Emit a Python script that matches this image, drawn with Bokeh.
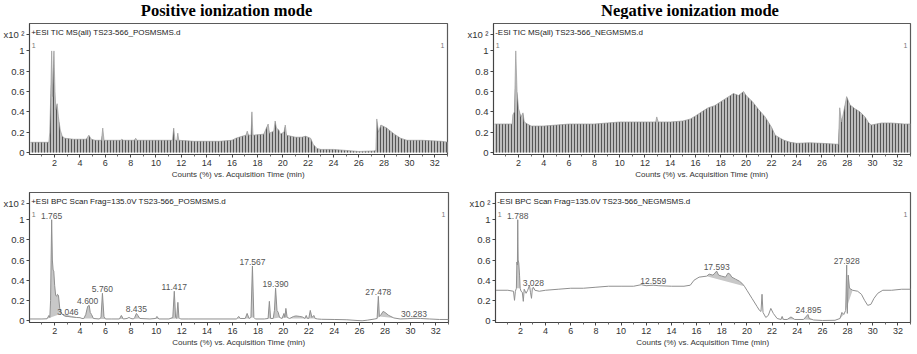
import numpy as np
from bokeh.plotting import figure
from bokeh.models import Range1d, FixedTicker, Label
from bokeh.layouts import column, row
from bokeh.core.properties import value
from bokeh.embed import file_html
from bokeh.resources import INLINE

# ---------------- data ----------------
PANEL_TITLES = ["Positive ionization mode", "Negative ionization mode"]
HEADERS = ["+ESI TIC MS(all) TS23-566_POSMSMS.d",
           "-ESI TIC MS(all) TS23-566_NEGMSMS.d",
           "+ESI BPC Scan Frag=135.0V TS23-566_POSMSMS.d",
           "-ESI BPC Scan Frag=135.0V TS23-566_NEGMSMS.d"]
X_TITLE = "Counts (%) vs. Acquisition Time (min)"
X_TICKS = [2, 4, 6, 8, 10, 12, 14, 16, 18, 20, 22, 24, 26, 28, 30, 32]
X_MINOR = [1, 3, 5, 7, 9, 11, 13, 15, 17, 19, 21, 23, 25, 27, 29, 31, 33]
Y_TICKS = [0, 0.2, 0.4, 0.6, 0.8, 1]
Y_TICK_LABELS = ["0", "0.2", "0.4", "0.6", "0.8", "1"]
Y_SCALE_LABEL = "x10 \u00b2"

# positive TIC (envelope of scans)
pos_tic_t = [0.1, 1.55, 1.62, 1.7, 1.77, 1.85, 1.95, 2.03, 2.1, 2.2, 2.3, 2.45, 2.6, 2.8,
             3.5, 4.5, 4.7, 4.9, 5.2, 5.7, 5.8, 5.9, 7.2, 7.3, 7.4, 8.3, 8.4, 8.5, 9.0,
             11.3, 11.4, 11.5, 11.65, 11.72, 11.8, 13.0, 15.0, 16.0, 16.3, 16.8, 17.1,
             17.2, 17.3, 17.5, 17.57, 17.65, 18.5, 18.85, 18.95, 19.3, 19.4, 19.5, 19.7,
             19.8, 20.1, 20.2, 20.3, 21.0, 21.5, 21.8, 22.0, 22.2, 22.4, 22.7, 23.0, 24.0,
             25.0, 26.0, 27.2, 27.35, 27.42, 27.55, 27.75, 28.2, 28.8, 29.3, 29.8, 31.0,
             32.5, 33.1]
pos_tic_y = [0.10, 0.10, 0.20, 0.58, 1.00, 0.55, 1.00, 0.60, 0.42, 0.48, 0.35, 0.22, 0.16, 0.14,
             0.13, 0.13, 0.17, 0.13, 0.12, 0.12, 0.24, 0.12, 0.12, 0.13, 0.12, 0.12, 0.14, 0.12, 0.12,
             0.12, 0.24, 0.12, 0.12, 0.19, 0.12, 0.11, 0.11, 0.12, 0.14, 0.16, 0.17,
             0.21, 0.17, 0.17, 0.40, 0.17, 0.18, 0.28, 0.19, 0.21, 0.31, 0.24, 0.22,
             0.18, 0.20, 0.27, 0.17, 0.15, 0.15, 0.16, 0.15, 0.14, 0.08, 0.04, 0.03, 0.03,
             0.02, 0.01, 0.015, 0.02, 0.33, 0.20, 0.27, 0.24, 0.18, 0.14, 0.12, 0.12,
             0.11, 0.10]

# negative TIC (envelope of scans)
neg_tic_t = [0.1, 1.5, 1.55, 1.68, 1.78, 1.88, 2.0, 2.2, 2.35, 2.45, 2.7, 3.0, 4.0, 5.0, 6.0,
             8.0, 9.0, 10.0, 12.0, 12.85, 12.93, 13.05, 14.0, 15.0, 15.6, 16.0, 16.5, 17.0,
             17.5, 18.0, 18.5, 19.0, 19.4, 19.8, 20.0, 20.5, 21.0, 21.5, 22.0, 22.3, 22.7,
             23.0, 23.5, 24.0, 25.0, 26.0, 27.3, 27.4, 27.55, 27.75, 27.95, 28.2, 28.6, 29.0,
             29.4, 29.7, 29.9, 30.3, 30.7, 31.5, 32.5, 33.1]
neg_tic_y = [0.28, 0.28, 0.37, 0.40, 1.00, 0.60, 0.43, 0.35, 0.39, 0.30, 0.28, 0.26, 0.26, 0.27, 0.28,
             0.28, 0.29, 0.30, 0.30, 0.30, 0.35, 0.30, 0.30, 0.31, 0.33, 0.36, 0.40, 0.44,
             0.46, 0.50, 0.54, 0.58, 0.56, 0.60, 0.56, 0.50, 0.42, 0.35, 0.25, 0.17, 0.14,
             0.12, 0.10, 0.09, 0.095, 0.09, 0.08, 0.44, 0.30, 0.42, 0.55, 0.47, 0.43, 0.40,
             0.35, 0.29, 0.27, 0.28, 0.29, 0.29, 0.28, 0.28]

# positive BPC
pos_bpc_t = [0.05, 1.0, 1.4, 1.55, 1.62, 1.68, 1.72, 1.765, 1.82, 1.88, 1.93, 2.0, 2.08, 2.15,
             2.22, 2.3, 2.4, 2.55, 2.7, 2.9, 3.046, 3.3, 3.7, 4.0, 4.15, 4.3, 4.45, 4.6, 4.72,
             4.8, 4.9, 5.05, 5.5, 5.65, 5.76, 5.88, 6.0, 6.5, 7.1, 7.25, 7.4, 7.7, 7.85, 8.0,
             8.2, 8.3, 8.435, 8.55, 8.7, 9.5, 9.95, 10.05, 10.2, 11.0, 11.3, 11.417, 11.52,
             11.6, 11.7, 11.78, 11.9, 12.5, 16.3, 16.5, 16.6, 17.0, 17.15, 17.3, 17.45,
             17.567, 17.68, 17.8, 18.5, 18.8, 18.9, 19.0, 19.2, 19.3, 19.39, 19.5, 19.6,
             19.7, 19.9, 20.05, 20.12, 20.2, 20.3, 20.5, 20.8, 21.0, 21.3, 21.5, 21.7, 21.8,
             21.9, 22.0, 22.12, 22.25, 22.4, 22.5, 22.7, 23.0, 24.0, 25.0, 25.8, 26.2, 26.6,
             27.2, 27.38, 27.478, 27.56, 27.65, 27.85, 28.0, 28.3, 28.7, 29.2, 29.8, 30.283,
             30.8, 31.5, 32.3, 33.1]
pos_bpc_y = [0.015, 0.015, 0.017, 0.05, 0.03, 0.20, 0.60, 1.00, 0.60, 0.50, 0.49, 0.35, 0.25, 0.24,
             0.26, 0.25, 0.12, 0.07, 0.05, 0.04, 0.04, 0.035, 0.03, 0.028, 0.02, 0.02, 0.06, 0.14, 0.15,
             0.08, 0.06, 0.02, 0.015, 0.03, 0.27, 0.04, 0.015, 0.015, 0.015, 0.05, 0.015, 0.02, 0.03, 0.02,
             0.015, 0.03, 0.07, 0.05, 0.02, 0.015, 0.02, 0.04, 0.015, 0.015, 0.03, 0.29, 0.03,
             0.02, 0.18, 0.03, 0.015, 0.015, 0.015, 0.04, 0.02, 0.02, 0.07, 0.02, 0.03,
             0.54, 0.03, 0.015, 0.015, 0.02, 0.19, 0.02, 0.02, 0.10, 0.32, 0.10, 0.08,
             0.03, 0.02, 0.07, 0.03, 0.12, 0.03, 0.02, 0.04, 0.045, 0.04, 0.035, 0.02, 0.05,
             0.02, 0.02, 0.10, 0.03, 0.05, 0.02, 0.015, 0.012, 0.01, 0.007, 0.0, -0.003, 0.003,
             0.015, 0.02, 0.24, 0.04, 0.05, 0.09, 0.08, 0.05, 0.025, 0.015, 0.018, 0.022,
             0.02, 0.015, 0.01, 0.01]
pos_bpc_windows = [(1.4, 2.55), (2.55, 4.15), (4.3, 5.05), (5.5, 6.0), (7.1, 7.4), (8.2, 8.7),
                   (9.5, 10.2), (11.0, 11.6), (11.6, 11.9), (16.3, 16.6), (17.0, 17.3),
                   (17.45, 17.68), (18.8, 19.0), (19.2, 19.7), (19.9, 20.12), (20.12, 20.3),
                   (20.5, 21.7), (21.7, 21.9), (22.0, 22.5), (27.38, 27.56), (27.56, 28.7),
                   (29.8, 30.8)]
pos_peak_rt = [1.765, 3.046, 4.600, 5.760, 8.435, 11.417, 17.567, 19.390, 27.478, 30.283]
pos_peak_h = [1.00, 0.04, 0.15, 0.27, 0.07, 0.29, 0.54, 0.32, 0.24, 0.022]

# negative BPC
neg_bpc_t = [0.05, 1.0, 1.45, 1.53, 1.6, 1.68, 1.72, 1.76, 1.788, 1.82, 1.87, 1.93, 1.98, 2.05,
             2.15, 2.23, 2.3, 2.45, 2.58, 2.72, 2.8, 2.88, 2.95, 3.028, 3.15, 3.5, 4.0, 5.0,
             6.0, 7.0, 8.0, 9.0, 10.0, 11.0, 11.6, 12.0, 12.559, 13.0, 14.0, 15.0, 15.5,
             15.8, 16.2, 16.8, 17.0, 17.3, 17.45, 17.593, 17.75, 18.0, 18.3, 18.5, 18.65,
             18.8, 19.1, 19.4, 19.6, 19.8, 20.0, 20.4, 20.8, 21.0, 21.12, 21.2, 21.28, 21.5,
             21.7, 21.9, 22.1, 22.4, 22.7, 22.8, 22.9, 23.2, 23.5, 23.8, 24.5, 24.85, 24.95,
             25.3, 26.0, 27.0, 27.4, 27.55, 27.7, 27.85, 27.928, 27.98, 28.05, 28.15, 28.4,
             28.8, 29.1, 29.35, 29.6, 29.85, 30.1, 30.4, 30.8, 31.5, 32.3, 33.1]
neg_bpc_y = [0.30, 0.30, 0.29, 0.20, 0.29, 0.32, 0.58, 0.55, 1.00, 0.60, 0.57, 0.45, 0.32, 0.29,
             0.28, 0.19, 0.31, 0.27, 0.30, 0.35, 0.28, 0.22, 0.32, 0.33, 0.30, 0.29, 0.30, 0.31,
             0.32, 0.32, 0.33, 0.34, 0.34, 0.34, 0.355, 0.345, 0.35, 0.345, 0.34, 0.34, 0.35,
             0.40, 0.43, 0.44, 0.46, 0.45, 0.47, 0.49, 0.45, 0.44, 0.43, 0.47, 0.46,
             0.43, 0.41, 0.39, 0.37, 0.34, 0.30, 0.22, 0.14, 0.10, 0.09, 0.26, 0.08, 0.03,
             0.05, 0.12, 0.07, 0.02, 0.01, 0.04, 0.01, 0.01, 0.035, 0.01, 0.01, 0.06, 0.02,
             0.005, 0.0, 0.002, 0.02, 0.08, 0.06, 0.10, 0.55, 0.07, 0.45, 0.32, 0.30,
             0.29, 0.26, 0.20, 0.15, 0.16, 0.22, 0.27, 0.30, 0.30, 0.31, 0.31]
neg_bpc_windows = [(1.68, 1.98), (2.95, 3.15), (11.6, 13.0), (16.8, 19.8), (22.7, 22.9),
                   (23.2, 23.8), (24.5, 25.3), (27.4, 27.7), (27.85, 28.4)]
neg_peak_rt = [1.788, 3.028, 12.559, 17.593, 24.895, 27.928]
neg_peak_h = [1.00, 0.33, 0.35, 0.49, 0.06, 0.55]

# ---------------- styling ----------------
SANS = "Liberation Sans"
SERIF = "Liberation Serif"
X_RANGE = (0.02, 33.0)
Y_RANGE = (-0.02, 1.27)
TITLE_H = 19


def make_title_strip():
    W = 917
    t = figure(width=W, height=TITLE_H, output_backend="svg", toolbar_location=None,
               x_range=Range1d(0, W), y_range=Range1d(TITLE_H, 0),
               x_axis_type=None, y_axis_type=None,
               min_border_left=0, min_border_right=0, min_border_top=0, min_border_bottom=0)
    t.grid.visible = False
    t.outline_line_color = None
    t.text(x=[226, 689.5], y=[9.5, 9.5], text=PANEL_TITLES, text_font=value(SERIF),
           text_font_size="16.5px", text_font_style="bold", text_color="black",
           text_align="center", text_baseline="middle")
    return t


def make_fig(width, height, bl, br, bt, bb):
    p = figure(width=width, height=height, output_backend="svg", toolbar_location=None,
               x_range=Range1d(*X_RANGE), y_range=Range1d(*Y_RANGE),
               min_border_left=bl, min_border_right=br, min_border_top=bt, min_border_bottom=bb)
    p.grid.visible = False
    p.outline_line_color = "#5a5a5a"
    p.outline_line_width = 1.2
    p.background_fill_color = "white"
    p.border_fill_color = "white"

    xa = p.xaxis[0]
    xa.ticker = FixedTicker(ticks=X_TICKS, minor_ticks=X_MINOR)
    xa.axis_label = X_TITLE
    xa.axis_label_text_font = SANS
    xa.axis_label_text_font_size = "8px"
    xa.axis_label_text_font_style = "normal"
    xa.axis_label_text_color = "#333333"
    xa.axis_label_standoff = 1
    xa.major_label_text_font = SANS
    xa.major_label_text_font_size = "9px"
    xa.major_label_text_color = "#333333"
    xa.major_label_standoff = 2
    xa.major_tick_out = 3
    xa.major_tick_in = 0
    xa.minor_tick_out = 2
    xa.minor_tick_in = 0
    xa.axis_line_color = "#444444"
    xa.major_tick_line_color = "#444444"
    xa.minor_tick_line_color = "#666666"

    ya = p.yaxis[0]
    y_scale_pos = 1.16
    ya.ticker = FixedTicker(ticks=Y_TICKS + [y_scale_pos])
    overrides = {t: s for t, s in zip(Y_TICKS, Y_TICK_LABELS)}
    overrides[y_scale_pos] = Y_SCALE_LABEL
    ya.major_label_overrides = overrides
    ya.major_label_text_font = SANS
    ya.major_label_text_font_size = "9.5px"
    ya.major_label_text_color = "#333333"
    ya.major_label_standoff = 2
    ya.major_tick_out = 3
    ya.major_tick_in = 0
    ya.minor_tick_line_color = None
    ya.axis_line_color = "#444444"
    ya.major_tick_line_color = "#444444"
    return p


def decorate(p, header):
    p.add_layout(Label(x=0.15, y=1.185, text=header, text_font=SANS, text_font_size="8px",
                       text_color="#222222", text_baseline="middle", text_align="left"))
    p.add_layout(Label(x=0.35, y=1.05, text="1", text_font=SANS, text_font_size="7px",
                       text_color="#777777", text_baseline="middle", text_align="center"))
    p.add_layout(Label(x=32.6, y=1.05, text="1", text_font=SANS, text_font_size="7px",
                       text_color="#777777", text_baseline="middle", text_align="center"))


def draw_tic(p, t, y):
    p.varea(x=t, y1=[0] * len(t), y2=y, fill_color="#bdbdbd",
            hatch_pattern="vertical_line", hatch_color="#555555", hatch_scale=3, hatch_weight=1)
    p.line(t, y, line_color="#9a9a9a", line_width=0.7)


def draw_bpc(p, t, y, windows, rts, hs):
    ta = np.asarray(t)
    ya = np.asarray(y)
    xs, ys = [], []
    for a, b in windows:
        m = (ta >= a) & (ta <= b)
        xs.append(list(ta[m]))
        ys.append(list(ya[m]))
    p.patches(xs, ys, fill_color="#c8c8c8", line_color=None)
    p.line(t, y, line_color="#8f8f8f", line_width=1)
    p.text(x=rts, y=hs, text=[f"{r:.3f}" for r in rts], text_font=value(SANS),
           text_font_size="8.5px", text_color="#555555", text_align="center",
           text_baseline="bottom", y_offset=-1)


title_strip = make_title_strip()

p1 = make_fig(458, 181 - TITLE_H, 29, 11, 23 - TITLE_H, 27)
draw_tic(p1, pos_tic_t, pos_tic_y)
decorate(p1, HEADERS[0])

p2 = make_fig(459, 181 - TITLE_H, 35, 7, 23 - TITLE_H, 27)
draw_tic(p2, neg_tic_t, neg_tic_y)
decorate(p2, HEADERS[1])

p3 = make_fig(458, 173, 29, 10, 8, 32)
draw_bpc(p3, pos_bpc_t, pos_bpc_y, pos_bpc_windows, pos_peak_rt, pos_peak_h)
decorate(p3, HEADERS[2])

p4 = make_fig(459, 173, 37, 7, 11, 31)
draw_bpc(p4, neg_bpc_t, neg_bpc_y, neg_bpc_windows, neg_peak_rt, neg_peak_h)
decorate(p4, HEADERS[3])

layout = column(title_strip, row(p1, p2), row(p3, p4))
open("out.html", "w").write(file_html(layout, INLINE))
